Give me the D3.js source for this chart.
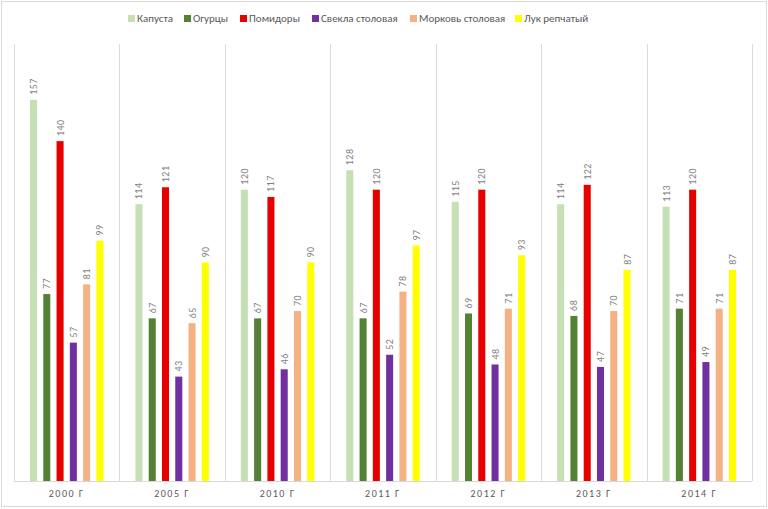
<!DOCTYPE html>
<html><head><meta charset="utf-8">
<script src="https://cdn.jsdelivr.net/npm/d3@7"></script>
<style>body{margin:0;background:#fff}svg{display:block;font-family:Calibri,"Liberation Sans",Carlito,Arial,sans-serif}</style>
</head><body><svg id="c" width="768" height="509"></svg>
<script>
const categories = ["2000 г","2005 г","2010 г","2011 г","2012 г","2013 г","2014 г"];
const seriesNames = ["Капуста","Огурцы","Помидоры","Свекла столовая","Морковь столовая","Лук репчатый"];
const seriesColors = ["#c5e0b4","#548235","#e60000","#7030a0","#f4b183","#ffff00"];
const kapusta = [157,114,120,128,115,114,113];
const ogurcy = [77,67,67,67,69,68,71];
const pomidory = [140,121,117,120,120,122,120];
const svekla = [57,43,46,52,48,47,49];
const morkov = [81,65,70,78,71,70,71];
const luk = [99,90,90,97,93,87,87];
const series = [kapusta,ogurcy,pomidory,svekla,morkov,luk];

const svg = d3.select("#c");
svg.append("rect").attr("x",1.5).attr("y",1.5).attr("width",765).attr("height",505)
  .attr("fill","#fff").attr("stroke","#d9d9d9");
const L=14,R=752,T=44,B=481;
const x0 = d3.scaleBand().domain(categories).range([L,R]).padding(0);
const x1 = d3.scaleBand().domain(d3.range(6)).range([16,x0.bandwidth()-16]).paddingInner(0.47).paddingOuter(0);
const y = d3.scaleLinear().domain([0,180]).range([B,T]);

// vertical gridlines
const bounds = categories.map(c=>x0(c)).concat([R]);
svg.append("g").selectAll("line").data(bounds).join("line")
  .attr("x1",d=>Math.round(d)+0.5).attr("x2",d=>Math.round(d)+0.5)
  .attr("y1",T).attr("y2",B).attr("stroke","#d9d9d9");
svg.append("line").attr("x1",L).attr("x2",R).attr("y1",B+0.5).attr("y2",B+0.5).attr("stroke","#d9d9d9");

const g = svg.append("g");
categories.forEach((c,ci)=>{
  series.forEach((s,si)=>{
    const bx = x0(c)+x1(si), bw = x1.bandwidth();
    g.append("rect").attr("x",bx).attr("y",y(s[ci])).attr("width",bw).attr("height",B-y(s[ci]))
      .attr("fill",seriesColors[si]);
    g.append("text").attr("transform",`translate(${bx+bw/2+3.5},${y(s[ci])-5}) rotate(-90)`)
      .attr("font-size",10).attr("fill","#7f7f7f").attr("letter-spacing",0.5).text(s[ci]);
  });
});
// category axis labels
svg.append("g").selectAll("text").data(categories).join("text")
  .attr("x",d=>x0(d)+x0.bandwidth()/2).attr("y",497).attr("text-anchor","middle")
  .attr("font-size",10).attr("fill","#595959").attr("letter-spacing",1.5).text(d=>d.toUpperCase());

// legend
const legX = [128,184,240,312,410,515];
const leg = svg.append("g");
seriesNames.forEach((n,i)=>{
  leg.append("rect").attr("x",legX[i]).attr("y",15).attr("width",7).attr("height",7).attr("fill",seriesColors[i]);
  leg.append("text").attr("x",legX[i]+9).attr("y",22).attr("font-size",11).attr("fill","#595959").text(n);
});
</script></body></html>
